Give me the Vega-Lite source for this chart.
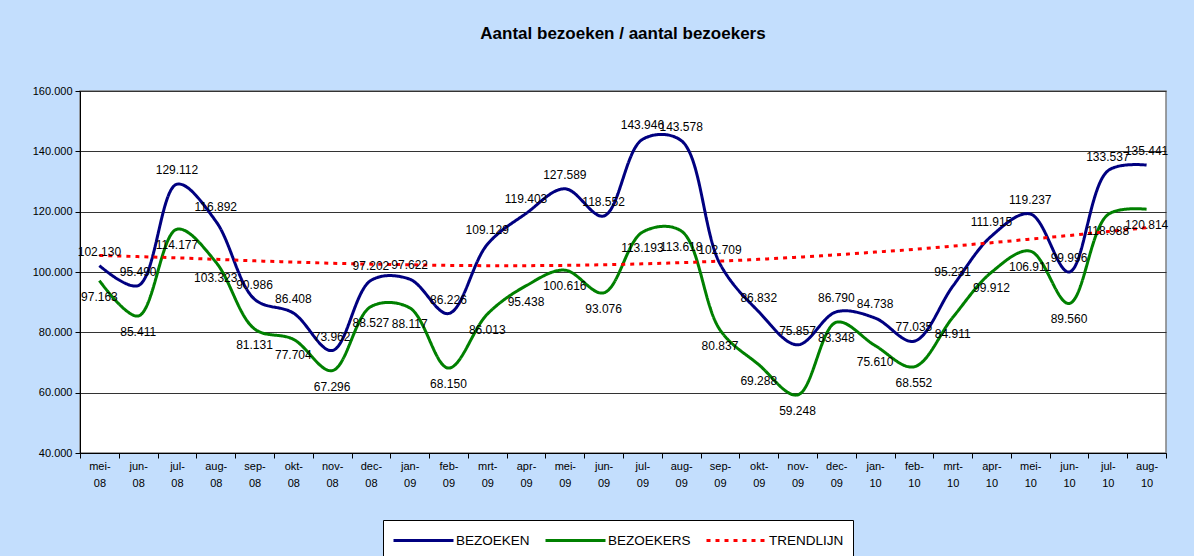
{
  "$schema": "https://vega.github.io/schema/vega-lite/v6.json",
  "width": 1086,
  "height": 362,
  "autosize": {"type": "none"},
  "padding": {"left": 80, "top": 91, "right": 28, "bottom": 103},
  "background": "#C3DEFD",
  "title": {"text": "Aantal bezoeken / aantal bezoekers", "fontSize": 17, "font": "Liberation Sans", "fontWeight": "bold", "color": "#000000", "anchor": "middle", "offset": 42},
  "config": {
    "locale": {"number": {"decimal": ",", "thousands": ".", "grouping": [3], "currency": ["€ ", ""]}},
    "view": {"fill": "#ffffff", "stroke": "#808080", "strokeWidth": 1.5},
    "font": "Liberation Sans"
  },
  "data": {"values": [
    {"m": "mei-08", "s": "BEZOEKEN", "v": 102130}, {"m": "jun-08", "s": "BEZOEKEN", "v": 95490}, {"m": "jul-08", "s": "BEZOEKEN", "v": 129112}, {"m": "aug-08", "s": "BEZOEKEN", "v": 116892},
    {"m": "sep-08", "s": "BEZOEKEN", "v": 90986}, {"m": "okt-08", "s": "BEZOEKEN", "v": 86408}, {"m": "nov-08", "s": "BEZOEKEN", "v": 73962}, {"m": "dec-08", "s": "BEZOEKEN", "v": 97202},
    {"m": "jan-09", "s": "BEZOEKEN", "v": 97622}, {"m": "feb-09", "s": "BEZOEKEN", "v": 86226}, {"m": "mrt-09", "s": "BEZOEKEN", "v": 109129}, {"m": "apr-09", "s": "BEZOEKEN", "v": 119403},
    {"m": "mei-09", "s": "BEZOEKEN", "v": 127589}, {"m": "jun-09", "s": "BEZOEKEN", "v": 118552}, {"m": "jul-09", "s": "BEZOEKEN", "v": 143946}, {"m": "aug-09", "s": "BEZOEKEN", "v": 143578},
    {"m": "sep-09", "s": "BEZOEKEN", "v": 102709}, {"m": "okt-09", "s": "BEZOEKEN", "v": 86832}, {"m": "nov-09", "s": "BEZOEKEN", "v": 75857}, {"m": "dec-09", "s": "BEZOEKEN", "v": 86790},
    {"m": "jan-10", "s": "BEZOEKEN", "v": 84738}, {"m": "feb-10", "s": "BEZOEKEN", "v": 77035}, {"m": "mrt-10", "s": "BEZOEKEN", "v": 95231}, {"m": "apr-10", "s": "BEZOEKEN", "v": 111915},
    {"m": "mei-10", "s": "BEZOEKEN", "v": 119237}, {"m": "jun-10", "s": "BEZOEKEN", "v": 99996}, {"m": "jul-10", "s": "BEZOEKEN", "v": 133537}, {"m": "aug-10", "s": "BEZOEKEN", "v": 135441},
    {"m": "mei-08", "s": "BEZOEKERS", "v": 97163}, {"m": "jun-08", "s": "BEZOEKERS", "v": 85411}, {"m": "jul-08", "s": "BEZOEKERS", "v": 114177}, {"m": "aug-08", "s": "BEZOEKERS", "v": 103323},
    {"m": "sep-08", "s": "BEZOEKERS", "v": 81131}, {"m": "okt-08", "s": "BEZOEKERS", "v": 77704}, {"m": "nov-08", "s": "BEZOEKERS", "v": 67296}, {"m": "dec-08", "s": "BEZOEKERS", "v": 88527},
    {"m": "jan-09", "s": "BEZOEKERS", "v": 88117}, {"m": "feb-09", "s": "BEZOEKERS", "v": 68150}, {"m": "mrt-09", "s": "BEZOEKERS", "v": 86013}, {"m": "apr-09", "s": "BEZOEKERS", "v": 95438},
    {"m": "mei-09", "s": "BEZOEKERS", "v": 100616}, {"m": "jun-09", "s": "BEZOEKERS", "v": 93076}, {"m": "jul-09", "s": "BEZOEKERS", "v": 113193}, {"m": "aug-09", "s": "BEZOEKERS", "v": 113618},
    {"m": "sep-09", "s": "BEZOEKERS", "v": 80837}, {"m": "okt-09", "s": "BEZOEKERS", "v": 69288}, {"m": "nov-09", "s": "BEZOEKERS", "v": 59248}, {"m": "dec-09", "s": "BEZOEKERS", "v": 83348},
    {"m": "jan-10", "s": "BEZOEKERS", "v": 75610}, {"m": "feb-10", "s": "BEZOEKERS", "v": 68552}, {"m": "mrt-10", "s": "BEZOEKERS", "v": 84911}, {"m": "apr-10", "s": "BEZOEKERS", "v": 99912},
    {"m": "mei-10", "s": "BEZOEKERS", "v": 106911}, {"m": "jun-10", "s": "BEZOEKERS", "v": 89560}, {"m": "jul-10", "s": "BEZOEKERS", "v": 118988}, {"m": "aug-10", "s": "BEZOEKERS", "v": 120814},
    {"m": "mei-08", "s": "TRENDLIJN", "v": 105500}, {"m": "jun-08", "s": "TRENDLIJN", "v": 105100}, {"m": "jul-08", "s": "TRENDLIJN", "v": 104700}, {"m": "aug-08", "s": "TRENDLIJN", "v": 104200},
    {"m": "sep-08", "s": "TRENDLIJN", "v": 103700}, {"m": "okt-08", "s": "TRENDLIJN", "v": 103300}, {"m": "nov-08", "s": "TRENDLIJN", "v": 102900}, {"m": "dec-08", "s": "TRENDLIJN", "v": 102600},
    {"m": "jan-09", "s": "TRENDLIJN", "v": 102400}, {"m": "feb-09", "s": "TRENDLIJN", "v": 102200}, {"m": "mrt-09", "s": "TRENDLIJN", "v": 102100}, {"m": "apr-09", "s": "TRENDLIJN", "v": 102100},
    {"m": "mei-09", "s": "TRENDLIJN", "v": 102200}, {"m": "jun-09", "s": "TRENDLIJN", "v": 102400}, {"m": "jul-09", "s": "TRENDLIJN", "v": 102700}, {"m": "aug-09", "s": "TRENDLIJN", "v": 103100},
    {"m": "sep-09", "s": "TRENDLIJN", "v": 103600}, {"m": "okt-09", "s": "TRENDLIJN", "v": 104200}, {"m": "nov-09", "s": "TRENDLIJN", "v": 104900}, {"m": "dec-09", "s": "TRENDLIJN", "v": 105700},
    {"m": "jan-10", "s": "TRENDLIJN", "v": 106600}, {"m": "feb-10", "s": "TRENDLIJN", "v": 107500}, {"m": "mrt-10", "s": "TRENDLIJN", "v": 108600}, {"m": "apr-10", "s": "TRENDLIJN", "v": 109700},
    {"m": "mei-10", "s": "TRENDLIJN", "v": 110900}, {"m": "jun-10", "s": "TRENDLIJN", "v": 112100}, {"m": "jul-10", "s": "TRENDLIJN", "v": 113400}, {"m": "aug-10", "s": "TRENDLIJN", "v": 114700}
  ]},
  "encoding": {
    "x": {
      "field": "m", "type": "ordinal", "sort": null,
      "scale": {"paddingInner": 0, "paddingOuter": 0},
      "axis": {
        "title": null, "tickBand": "extent", "labelAngle": 0,
        "labelExpr": "datum.label ? [split(datum.label,'-')[0] + '-', split(datum.label,'-')[1]] : ''",
        "labelFontSize": 11, "labelColor": "#000000", "labelFont": "Liberation Sans",
        "domainColor": "#000000", "tickColor": "#000000", "tickSize": 5, "labelPadding": 2, "labelLineHeight": 17
      }
    },
    "y": {
      "field": "v", "type": "quantitative",
      "scale": {"domain": [40000, 160000], "nice": false, "zero": false},
      "axis": {
        "title": null, "values": [40000, 60000, 80000, 100000, 120000, 140000, 160000], "format": ",d",
        "grid": true, "gridColor": "#333333", "gridWidth": 1, "labelFontSize": 11, "labelColor": "#000000", "labelFont": "Liberation Sans",
        "domainColor": "#000000", "tickColor": "#000000", "tickSize": 5, "labelPadding": 3
      }
    }
  },
  "layer": [
    {
      "mark": {"type": "line", "interpolate": "catmull-rom", "strokeWidth": 3},
      "encoding": {
        "color": {
          "field": "s", "type": "nominal",
          "scale": {"domain": ["BEZOEKEN", "BEZOEKERS", "TRENDLIJN"], "range": ["#000080", "#008000", "#FF0000"]},
          "legend": {
            "title": null, "orient": "none", "legendX": 303, "legendY": 429, "direction": "horizontal",
            "strokeColor": "#000000", "fillColor": "#ffffff", "padding": 9,
            "symbolType": "M-1,0L5,0", "symbolSize": 400, "symbolStrokeWidth": 3,
            "labelFontSize": 13.5, "labelColor": "#000000", "labelFont": "Liberation Sans", "columnPadding": 9, "labelOffset": 41
          }
        },
        "strokeDash": {
          "field": "s", "type": "nominal",
          "scale": {"domain": ["BEZOEKEN", "BEZOEKERS", "TRENDLIJN"], "range": [[1, 0], [1, 0], [4, 5]]},
          "legend": {
            "title": null, "orient": "none", "legendX": 303, "legendY": 429, "direction": "horizontal",
            "strokeColor": "#000000", "fillColor": "#ffffff", "padding": 9,
            "symbolType": "M-1,0L5,0", "symbolSize": 400, "symbolStrokeWidth": 3,
            "labelFontSize": 13.5, "labelColor": "#000000", "labelFont": "Liberation Sans", "columnPadding": 9, "labelOffset": 41
          }
        },
        "strokeWidth": {
          "field": "s", "type": "nominal",
          "scale": {"domain": ["BEZOEKEN", "BEZOEKERS", "TRENDLIJN"], "range": [3, 3, 2]},
          "legend": null
        }
      }
    },
    {
      "transform": [{"filter": "datum.s === 'BEZOEKEN'"}],
      "mark": {"type": "text", "dy": -14, "fontSize": 12, "font": "Liberation Sans", "color": "#000000"},
      "encoding": {"text": {"field": "v", "type": "quantitative", "format": ",d"}}
    },
    {
      "transform": [{"filter": "datum.s === 'BEZOEKERS'"}],
      "mark": {"type": "text", "dy": 16, "fontSize": 12, "font": "Liberation Sans", "color": "#000000"},
      "encoding": {"text": {"field": "v", "type": "quantitative", "format": ",d"}}
    }
  ]
}
